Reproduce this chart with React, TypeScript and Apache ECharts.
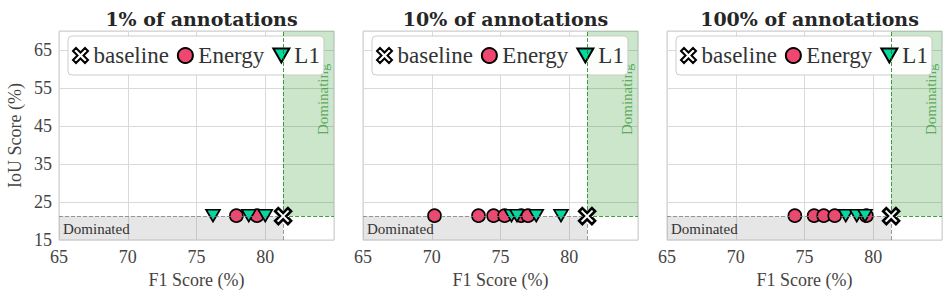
import React, { useEffect, useRef } from "react";
import * as echarts from "echarts";

// ---- data ----
const panelTitles = ["1% of annotations", "10% of annotations", "100% of annotations"];
const xMin = 65;
const xMax = 85;
const xInterval = 5;
const yMin = 15;
const yMax = 70;
const yInterval = 10;

const baselineF1 = [81.3, 81.3, 81.3];
const baselineIoU = [21.3, 21.3, 21.3];

const energyF1 = [
  [77.9, 79.4],
  [70.2, 73.4, 74.5, 75.3, 76.5, 77.0],
  [74.3, 75.7, 76.4, 77.2, 79.5],
];
const energyIoU = [
  [21.4, 21.4],
  [21.4, 21.4, 21.4, 21.4, 21.4, 21.4],
  [21.4, 21.4, 21.4, 21.4, 21.4],
];
const l1F1 = [
  [76.2, 78.8, 80.0],
  [75.8, 76.2, 77.6, 79.4],
  [78.0, 78.8, 79.4],
];
const l1IoU = [
  [21.4, 21.4, 21.4],
  [21.4, 21.4, 21.4, 21.4],
  [21.4, 21.4, 21.4],
];

const dominatedLabel = "Dominated";
const dominatingLabel = "Dominating";
const dominatingAnchor = [84.2, 42.6];

// ---- styles ----
const SERIF = "Liberation Serif";
const TITLE_FONT = "DejaVu Serif";
const ENERGY_COLOR = "#ef476f";
const L1_COLOR = "#06d6a0";
const GREEN_FILL = "rgba(0,128,0,0.2)";
const GREY_FILL = "rgba(128,128,128,0.2)";
const GREEN_LINE = "rgba(0,128,0,0.75)";
const GREY_LINE = "rgba(128,128,128,0.8)";
const X_SYMBOL = "path://M2,0L5,3L8,0L10,2L7,5L10,8L8,10L5,7L2,10L0,8L3,5L0,2Z";
const TRI_DOWN = "path://M0,0L10,0L5,8.66Z";

const GRID_LEFTS = [59, 363, 667];
const GRID_W = 275;
const GRID_TOP = 31;
const GRID_H = 209;

function zip(xs: number[], ys: number[]) {
  return xs.map((x, i) => [x, ys[i]]);
}

function buildOption() {
  const grid: any[] = [];
  const xAxis: any[] = [];
  const yAxis: any[] = [];
  const title: any[] = [];
  const legend: any[] = [];
  const series: any[] = [];

  panelTitles.forEach((t, i) => {
    grid.push({
      left: GRID_LEFTS[i],
      top: GRID_TOP,
      width: GRID_W,
      height: GRID_H,
      show: true,
      borderColor: "#cccccc",
      borderWidth: 1,
      backgroundColor: "transparent",
    });
    title.push({
      text: t,
      left: GRID_LEFTS[i] + GRID_W / 2,
      top: 4,
      textAlign: "center",
      textStyle: { fontFamily: TITLE_FONT, fontWeight: "bold", fontSize: 19, color: "#262626" },
    });
    xAxis.push({
      type: "value",
      gridIndex: i,
      min: xMin,
      max: xMax,
      interval: xInterval,
      name: "F1 Score (%)",
      nameLocation: "middle",
      nameGap: 30,
      nameTextStyle: { fontFamily: SERIF, fontSize: 18, color: "#444" },
      axisLine: { show: false },
      axisTick: { show: false },
      axisLabel: {
        showMaxLabel: false,
        margin: 8,
        fontFamily: SERIF,
        fontSize: 18,
        color: "#444",
      },
      splitLine: { show: true, lineStyle: { color: "#d9d9d9", width: 1 } },
    });
    yAxis.push({
      type: "value",
      gridIndex: i,
      min: yMin,
      max: yMax,
      interval: yInterval,
      name: i === 0 ? "IoU Score (%)" : "",
      nameLocation: "middle",
      nameGap: 35,
      nameTextStyle: { fontFamily: SERIF, fontSize: 18, color: "#444" },
      axisLine: { show: false },
      axisTick: { show: false },
      axisLabel: {
        show: i === 0,
        showMaxLabel: false,
        margin: 7,
        fontFamily: SERIF,
        fontSize: 18,
        color: "#444",
      },
      splitLine: { show: true, lineStyle: { color: "#d9d9d9", width: 1 } },
    });
    legend.push({
      data: ["baseline", "Energy", "L1"],
      left: GRID_LEFTS[i] + 9,
      top: 36,
      orient: "horizontal",
      itemWidth: 16,
      itemHeight: 15,
      itemGap: 8,
      padding: [8, 4],
      selectedMode: false,
      backgroundColor: "rgba(255,255,255,0.94)",
      borderColor: "#cccccc",
      borderWidth: 1,
      borderRadius: 4,
      textStyle: { fontFamily: SERIF, fontSize: 23, color: "#333" },
    });

    const bx = baselineF1[i];
    const by = baselineIoU[i];

    series.push({
      type: "scatter",
      name: "regions",
      xAxisIndex: i,
      yAxisIndex: i,
      data: [],
      silent: true,
      z: 1,
      markArea: {
        silent: true,
        data: [
          [
            { coord: [bx, by], itemStyle: { color: GREEN_FILL } },
            { coord: [xMax, yMax] },
          ],
          [
            {
              coord: [xMin, yMin],
              itemStyle: { color: GREY_FILL },
              label: {
                show: true,
                position: "insideBottomLeft",
                distance: 4,
                formatter: dominatedLabel,
                fontFamily: SERIF,
                fontSize: 15,
                color: "#333",
              },
            },
            { coord: [bx, by] },
          ],
        ],
      },
      markLine: {
        silent: true,
        symbol: ["none", "none"],
        label: { show: false },
        lineStyle: { type: "dashed", width: 1 },
        data: [
          [{ coord: [bx, by], lineStyle: { color: GREEN_LINE, type: "dashed", width: 1 } }, { coord: [bx, yMax] }],
          [{ coord: [bx, by], lineStyle: { color: GREEN_LINE, type: "dashed", width: 1 } }, { coord: [xMax, by] }],
          [{ coord: [xMin, by], lineStyle: { color: GREY_LINE, type: "dashed", width: 1 } }, { coord: [bx, by] }],
          [{ coord: [bx, yMin], lineStyle: { color: GREY_LINE, type: "dashed", width: 1 } }, { coord: [bx, by] }],
        ],
      },
    });

    series.push({
      type: "scatter",
      name: "dominating",
      xAxisIndex: i,
      yAxisIndex: i,
      silent: true,
      symbolSize: 0,
      z: 1,
      data: [dominatingAnchor],
      label: {
        show: true,
        formatter: dominatingLabel,
        position: "inside",
        rotate: 90,
        align: "left",
        verticalAlign: "middle",
        fontFamily: SERIF,
        fontSize: 15,
        color: "#3c9a3c",
      },
    });

    series.push({
      type: "scatter",
      name: "baseline",
      xAxisIndex: i,
      yAxisIndex: i,
      symbol: X_SYMBOL,
      symbolSize: 16,
      z: 5,
      data: [[bx, by]],
      itemStyle: { color: "#ffffff", borderColor: "#000000", borderWidth: 2.6, opacity: 1 },
    });
    series.push({
      type: "scatter",
      name: "Energy",
      xAxisIndex: i,
      yAxisIndex: i,
      symbol: "circle",
      symbolSize: 13,
      z: 3,
      data: zip(energyF1[i], energyIoU[i]),
      itemStyle: { color: ENERGY_COLOR, borderColor: "#000000", borderWidth: 1.6, opacity: 1 },
    });
    series.push({
      type: "scatter",
      name: "L1",
      xAxisIndex: i,
      yAxisIndex: i,
      symbol: TRI_DOWN,
      symbolSize: [14, 12],
      z: 4,
      data: zip(l1F1[i], l1IoU[i]),
      itemStyle: { color: L1_COLOR, borderColor: "#000000", borderWidth: 1.6, opacity: 1 },
    });
  });

  return {
    animation: false,
    backgroundColor: "#ffffff",
    title,
    grid,
    xAxis,
    yAxis,
    legend,
    series,
  };
}

export default function App() {
  const ref = useRef<HTMLDivElement>(null);
  useEffect(() => {
    if (!ref.current) return;
    const chart = echarts.init(ref.current, null, { renderer: "svg" });
    chart.setOption(buildOption());
    return () => chart.dispose();
  }, []);
  return (
    <div
      ref={ref}
      style={{ position: "absolute", left: 0, top: 0, width: 951, height: 299 }}
    />
  );
}
